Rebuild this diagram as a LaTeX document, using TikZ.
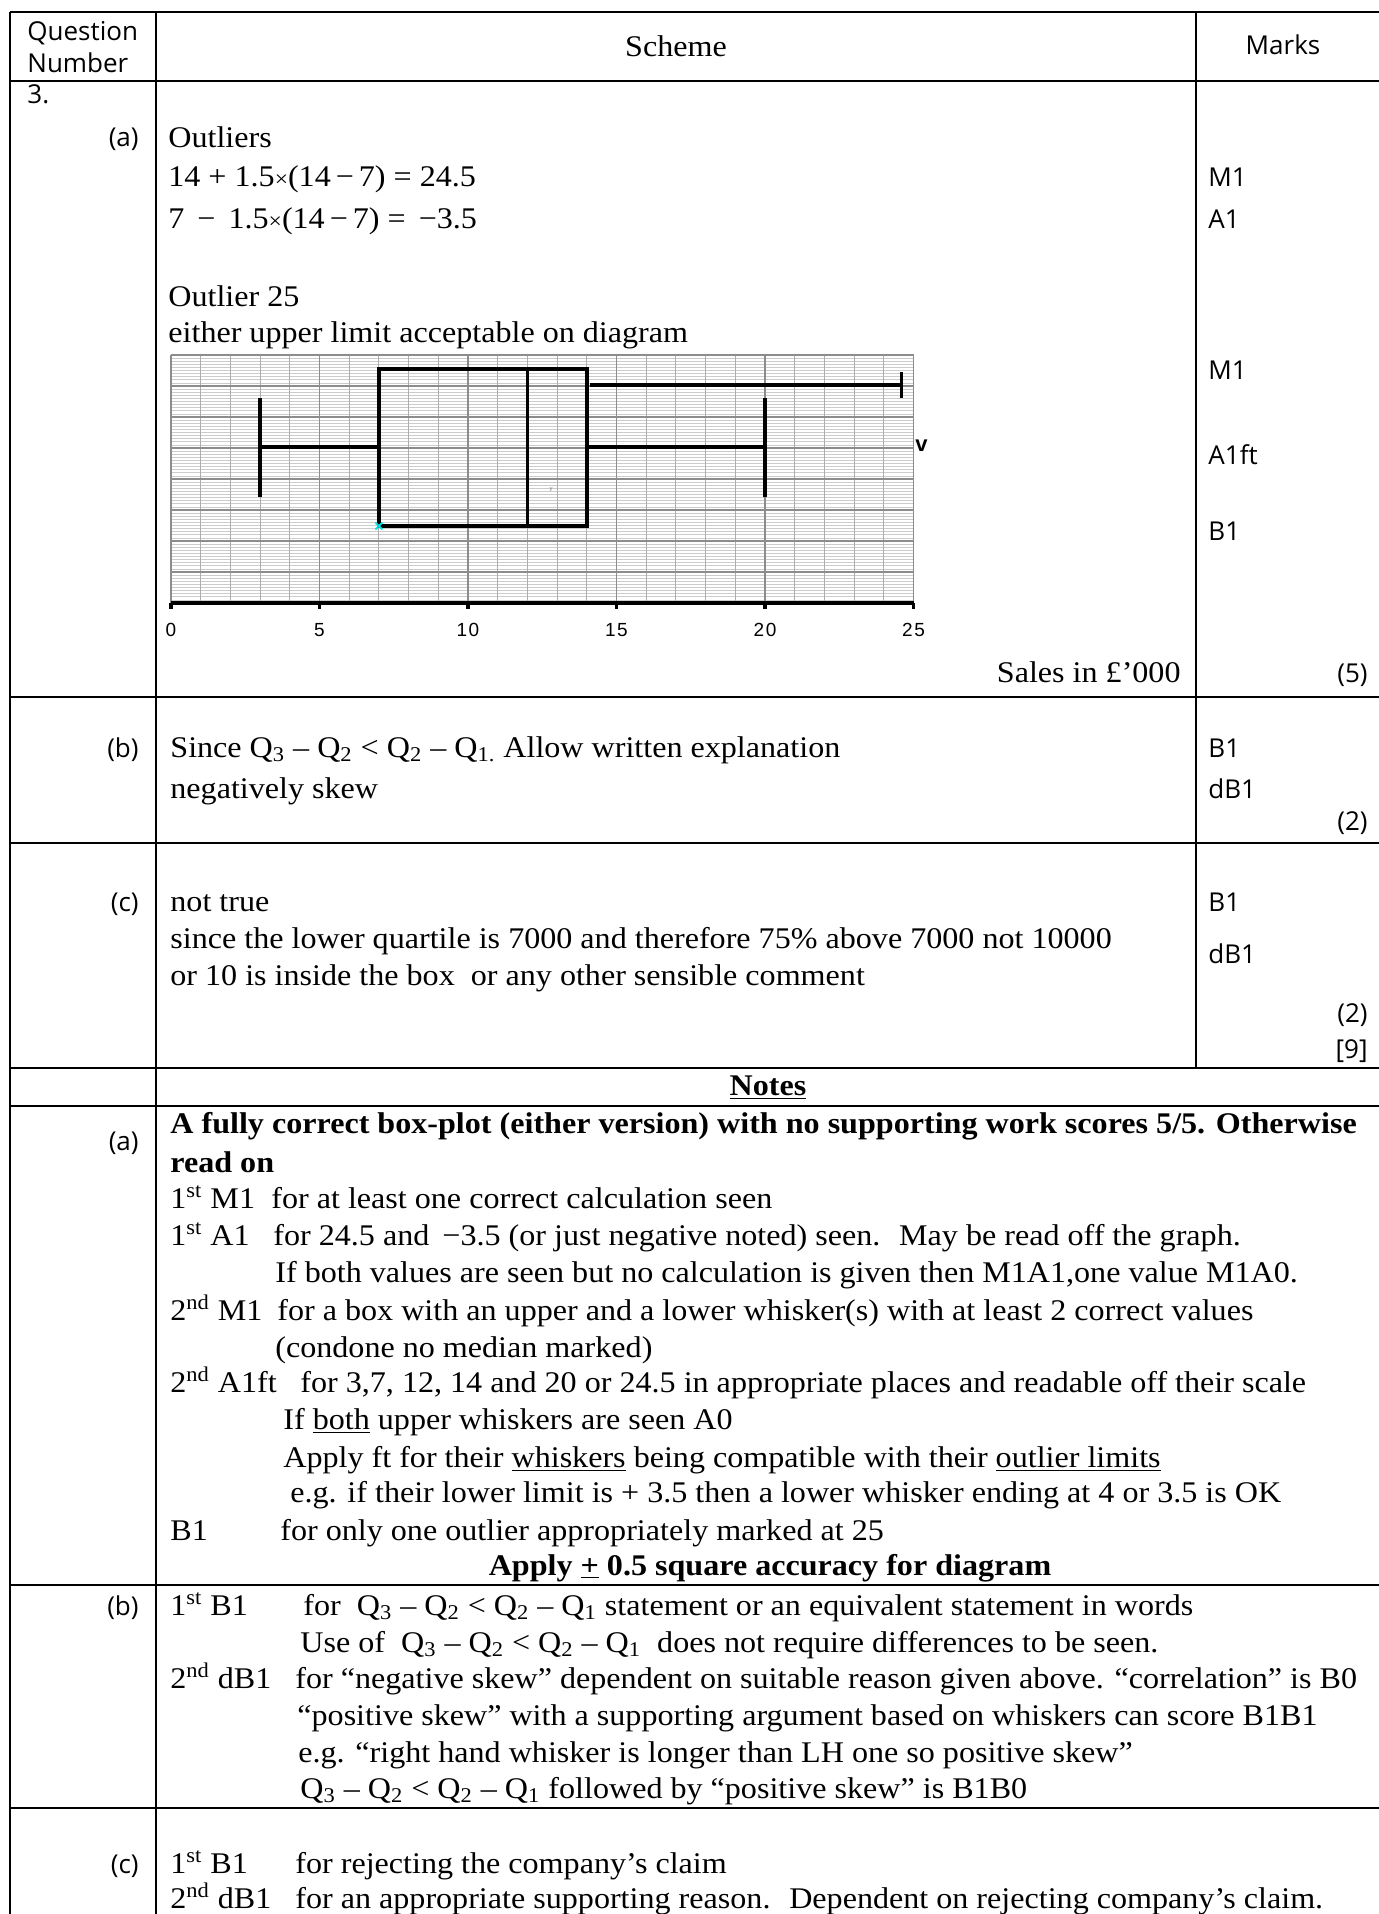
\documentclass[tikz,border=0pt]{standalone}
\usepackage{fontspec}
\setmainfont{Liberation Serif}[FakeStretch=1.07]
\newfontfamily\osans{Open Sans}
\newfontfamily\lsans{Liberation Sans}
\begin{document}
\begin{tikzpicture}[x=0.5pt,y=-0.5pt,
  tx/.style={anchor=base west,inner sep=0pt,font=\fontsize{15}{17}\selectfont},
  txr/.style={anchor=base east,inner sep=0pt,font=\fontsize{15}{17}\selectfont},
  txc/.style={anchor=base,inner sep=0pt,font=\fontsize{15}{17}\selectfont},
  sf/.style={anchor=base west,inner sep=0pt,font=\osans\fontsize{13}{15}\selectfont},
  sfr/.style={anchor=base east,inner sep=0pt,font=\osans\fontsize{13}{15}\selectfont},
  sfc/.style={anchor=base,inner sep=0pt,font=\osans\fontsize{13}{15}\selectfont},
  tick/.style={anchor=base,inner sep=0pt,font=\lsans\fontsize{9.5}{10}\selectfont},
  rule/.style={line width=1.3pt,black},
  minorg/.style={line width=0.35pt,color=black!20},
  unitg/.style={line width=0.5pt,color=black!32},
  majorg/.style={line width=0.7pt,color=black!45},
  boxl/.style={line width=1.7pt,black,line cap=rect}]
\useasboundingbox (0,0) rectangle (1379,1914);
\fill[white] (0,0) rectangle (1379,1914);

% ---------- graph grid ----------
\foreach \i in {0,...,80}{\draw[minorg] (171,{355+\i*3.1}) -- (913.5,{355+\i*3.1});}
\foreach \i in {0,...,25}{\draw[unitg] ({171+\i*29.7},355) -- ({171+\i*29.7},603);}
\foreach \i in {0,...,8}{\draw[majorg] (171,{355+\i*31}) -- (913.5,{355+\i*31});}
\foreach \i in {0,5,...,25}{\draw[majorg] ({171+\i*29.7},355) -- ({171+\i*29.7},603);}
% axis
\draw[line width=1.8pt] (171,603) -- (913.5,603);
\foreach \i in {0,5,...,25}{\draw[line width=1.6pt] ({171+\i*29.7},603) -- ({171+\i*29.7},609);}
\foreach \i/\n in {0/k0,5/k5,10/k10,15/k15,20/k20,25/k25}{\node[tick] (\n) at ({171+\i*29.7},636) {\addfontfeature{LetterSpace=8}\i};}
% box plot
\draw[boxl] (378.9,369) rectangle (586.8,526);
\draw[boxl] (527.4,369) -- (527.4,526);
\draw[boxl] (260.1,447) -- (378.9,447);
\draw[boxl] (260.1,400) -- (260.1,495);
\draw[boxl] (586.8,447) -- (765,447);
\draw[boxl] (765,400) -- (765,495);
\draw[boxl] (591.3,385) -- (901.6,385);
\draw[boxl] (901.6,374) -- (901.6,396);
\draw[color={rgb,255:red,0;green,230;blue,230},line width=0.9pt] (375.4,522.5) -- (382.4,529.5) (375.4,529.5) -- (382.4,522.5);
\node[anchor=base,inner sep=0pt,font=\lsans\fontsize{3}{3}\selectfont,text=black!50] (ty) at (551,491) {y};
\node[anchor=base west,inner sep=0pt,font=\lsans\bfseries\fontsize{11}{12}\selectfont] (tv) at (915,452) {v};

% ---------- table rules ----------
\draw[rule] (10,12) -- (1379,12);
\draw[rule] (10,81) -- (1379,81);
\draw[rule] (10,697) -- (1379,697);
\draw[rule] (10,843) -- (1379,843);
\draw[rule] (10,1068) -- (1379,1068);
\draw[rule] (10,1106) -- (1379,1106);
\draw[rule] (10,1585) -- (1379,1585);
\draw[rule] (10,1808) -- (1379,1808);
\draw[rule] (10,12) -- (10,1914);
\draw[rule] (156,12) -- (156,1914);
\draw[rule] (1196,12) -- (1196,1068);

% ---------- header ----------
\node[sf] (qn1) at (27,41) {Question};
\node[sf] (qn2) at (27,73) {Number};
\node[txc] (sch) at (676,57) {Scheme};
\node[sfc] (mk) at (1283,55) {Marks};

% ---------- part (a) ----------
\node[sf] (q3) at (27,104) {3.};
\node[sfr] (pa) at (139,147) {(a)};
\node[tx] (a1) at (168,148) {Outliers};
\node[tx] (a2) at (168,187) {14 + 1.5{\fontsize{11}{11}\selectfont ×}(14\,−\,7) = 24.5};
\node[tx] (a3) at (168,229) {7 \,−\, 1.5{\fontsize{11}{11}\selectfont ×}(14\,−\,7) = \,−3.5};
\node[tx] (a4) at (168,307) {Outlier 25};
\node[tx] (a5) at (168,343) {either upper limit acceptable on diagram};
\node[sf] (ma1) at (1208,187) {M1};
\node[sf] (ma2) at (1208,229) {A1};
\node[sf] (ma3) at (1208,380) {M1};
\node[sf] (ma4) at (1208,465) {A1ft};
\node[sf] (ma5) at (1208,540) {B1};
\node[txr] (sales) at (1181,682) {Sales in £’000};
\node[sfr] (ma6) at (1368,682) {(5)};

% ---------- part (b) ----------
\node[sfr] (pb) at (139,757) {(b)};
\node[tx] (b1) at (170,757) {Since Q\textsubscript{3} – Q\textsubscript{2} < Q\textsubscript{2} – Q\textsubscript{1.} Allow written explanation};
\node[tx] (b2) at (170,798) {negatively skew};
\node[sf] (mb1) at (1208,757) {B1};
\node[sf] (mb2) at (1208,798) {dB1};
\node[sfr] (mb3) at (1368,830) {(2)};

% ---------- part (c) ----------
\node[sfr] (pc) at (139,911) {(c)};
\node[tx] (c1) at (170,911) {not true};
\node[tx] (c2) at (170,948) {since the lower quartile is 7000 and therefore 75\% above 7000 not 10000};
\node[tx] (c3) at (170,985) {or 10 is inside the box \ or any other sensible comment};
\node[sf] (mc1) at (1208,911) {B1};
\node[sf] (mc2) at (1208,963) {dB1};
\node[sfr] (mc3) at (1368,1022) {(2)};
\node[sfr] (mc4) at (1368,1058) {[9]};

% ---------- notes ----------
\node[txc] (nt) at (768,1095) {\textbf{\underline{Notes}}};
\node[sfr] (na) at (139,1150) {(a)};
\node[tx] (n1) at (170,1133) {\textbf{A fully correct box-plot (either version) with no supporting work scores 5/5. Otherwise}};
\node[tx] (n2) at (170,1172) {\textbf{read on}};
\node[tx] (n3a) at (170,1208) {1\textsuperscript{st} M1};
\node[tx] (n3b) at (271,1208) {for at least one correct calculation seen};
\node[tx] (n4a) at (170,1245) {1\textsuperscript{st} A1};
\node[tx] (n4b) at (273,1245) {for 24.5 and \,−3.5 (or just negative noted) seen. \ May be read off the graph.};
\node[tx] (n5) at (275,1282) {If both values are seen but no calculation is given then M1A1,one value M1A0.};
\node[tx] (n6a) at (170,1320) {2\textsuperscript{nd} M1};
\node[tx] (n6b) at (277,1320) {for a box with an upper and a lower whisker(s) with at least 2 correct values};
\node[tx] (n7) at (275,1357) {(condone no median marked)};
\node[tx] (n8a) at (170,1392) {2\textsuperscript{nd} A1ft};
\node[tx] (n8b) at (300,1392) {for 3,7, 12, 14 and 20 or 24.5 in appropriate places and readable off their scale};
\node[tx] (n9) at (283,1429) {If \underline{both} upper whiskers are seen A0};
\node[tx] (n10) at (283,1467) {Apply ft for their \underline{whiskers} being compatible with their \underline{outlier limits}};
\node[tx] (n11) at (290,1502) {e.g. if their lower limit is + 3.5 then a lower whisker ending at 4 or 3.5 is OK};
\node[tx] (n12a) at (170,1540) {B1};
\node[tx] (n12b) at (280,1540) {for only one outlier appropriately marked at 25};
\node[txc] (n13) at (770,1575) {\textbf{Apply \underline{+} 0.5 square accuracy for diagram}};

\node[sfr] (nb) at (139,1615) {(b)};
\node[tx] (n14a) at (170,1615) {1\textsuperscript{st} B1};
\node[tx] (n14b) at (303,1615) {for \ Q\textsubscript{3} – Q\textsubscript{2} < Q\textsubscript{2} – Q\textsubscript{1} statement or an equivalent statement in words};
\node[tx] (n15) at (300,1652) {Use of \ Q\textsubscript{3} – Q\textsubscript{2} < Q\textsubscript{2} – Q\textsubscript{1} \ does not require differences to be seen.};
\node[tx] (n16a) at (170,1688) {2\textsuperscript{nd} dB1};
\node[tx] (n16b) at (295,1688) {for “negative skew” dependent on suitable reason given above. “correlation” is B0};
\node[tx] (n17) at (297,1725) {“positive skew” with a supporting argument based on whiskers can score B1B1};
\node[tx] (n18) at (298,1762) {e.g. “right hand whisker is longer than LH one so positive skew”};
\node[tx] (n19) at (300,1798) {Q\textsubscript{3} – Q\textsubscript{2} < Q\textsubscript{2} – Q\textsubscript{1} followed by “positive skew” is B1B0};

\node[sfr] (nc) at (139,1873) {(c)};
\node[tx] (n20a) at (170,1873) {1\textsuperscript{st} B1};
\node[tx] (n20b) at (295,1873) {for rejecting the company’s claim};
\node[tx] (n21a) at (170,1908) {2\textsuperscript{nd} dB1};
\node[tx] (n21b) at (295,1908) {for an appropriate supporting reason. \ Dependent on rejecting company’s claim.};
\end{tikzpicture}
\end{document}
